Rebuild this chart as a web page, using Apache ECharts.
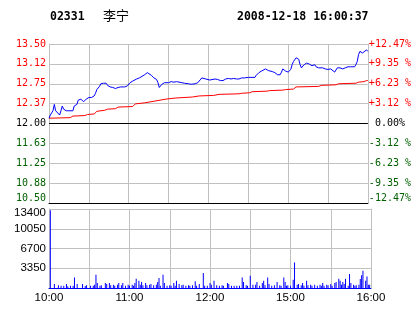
<!DOCTYPE html>
<html><head><meta charset="utf-8">
<script src="https://cdn.jsdelivr.net/npm/echarts@6/dist/echarts.min.js"></script>
<style>html,body{margin:0;padding:0;background:#fff}#c{width:414px;height:314px}</style>
</head><body><div id="c"></div>
<script>
var stockCode = '02331';
var stockName = '李宁';
var stamp = '2008-12-18 16:00:37';

var timeLabels = ['10:00','','11:00','','12:00','','15:00','','16:00'];
var priceLabels = ['10.50','10.88','11.25','11.63','12.00','12.37','12.75','13.12','13.50'];
var pctLabels = ['-12.47%','-9.35 %','-6.23 %','-3.12 %',' 0.00%','+3.12 %','+6.23 %','+9.35 %','+12.47%'];
var volLabels = ['','3350','6700','10050','13400'];

var priceMinutes = [0,1,3,4,5,6,8,9,10,11,13,14,15,16,18,19,21,22,24,25,26,28,30,32,34,35,36,38,39,41,43,44,46,48,50,52,54,57,59,61,63,64,66,68,70,72,74,75,77,79,81,82,83,84,85,87,88,90,92,94,96,97,100,102,105,107,110,112,113,115,116,118,119,121,122,125,127,129,131,133,135,137,139,141,143,145,147,150,152,155,156,158,160,161,163,165,166,168,170,172,174,175,176,178,180,182,183,184,186,187,188,189,190,191,192,194,195,196,198,199,200,201,203,204,206,208,210,212,213,215,216,217,219,221,223,225,227,228,230,231,232,233,234,236,237,239,240];
var priceValues = [12.10,12.16,12.24,12.36,12.24,12.27,12.16,12.24,12.33,12.27,12.24,12.26,12.24,12.22,12.24,12.33,12.36,12.44,12.46,12.47,12.41,12.46,12.49,12.49,12.52,12.57,12.64,12.70,12.75,12.76,12.76,12.72,12.69,12.68,12.66,12.68,12.69,12.69,12.71,12.77,12.80,12.78,12.84,12.86,12.89,12.92,12.96,12.96,12.91,12.86,12.83,12.77,12.68,12.69,12.74,12.77,12.78,12.77,12.79,12.78,12.79,12.78,12.77,12.76,12.75,12.74,12.75,12.77,12.80,12.86,12.83,12.84,12.86,12.82,12.84,12.84,12.83,12.81,12.81,12.84,12.85,12.84,12.85,12.84,12.84,12.86,12.86,12.87,12.87,12.87,12.91,12.96,12.99,13.02,13.03,13.00,12.99,12.98,12.96,12.92,12.92,12.97,13.03,12.99,12.97,13.02,13.11,13.17,13.24,13.27,13.21,13.11,13.05,13.07,13.11,13.14,13.11,13.12,13.09,13.12,13.11,13.07,13.05,13.07,13.05,13.03,13.02,13.03,13.00,12.97,13.00,13.05,13.05,13.03,13.05,13.07,13.07,13.09,13.07,13.11,13.17,13.30,13.36,13.33,13.36,13.39,13.36];

var avgMinutes = [0,16,18,27,29,34,36,42,44,50,52,63,65,72,79,88,95,108,113,124,128,143,145,151,153,164,166,176,178,184,186,203,205,216,218,231,233,237,239,240];
var avgValues = [12.10,12.11,12.14,12.15,12.17,12.18,12.23,12.25,12.27,12.28,12.31,12.32,12.37,12.39,12.42,12.46,12.48,12.50,12.52,12.53,12.55,12.56,12.57,12.58,12.60,12.61,12.62,12.63,12.64,12.65,12.69,12.70,12.72,12.73,12.75,12.76,12.78,12.79,12.81,12.81];

var volMinutes = [1,4,7,9,11,13,14,16,18,19,21,25,27,28,31,33,34,35,36,38,39,42,43,45,46,48,49,51,52,54,55,57,59,60,62,63,64,65,67,68,69,70,72,73,75,76,78,80,81,82,83,85,86,88,90,91,93,94,95,97,99,100,102,104,105,107,109,110,112,115,116,118,120,121,123,125,127,129,130,133,134,136,138,140,142,144,145,147,148,150,152,154,155,157,159,160,161,163,164,166,168,170,172,173,175,176,177,178,180,182,183,185,186,188,189,190,192,193,195,196,198,200,202,203,204,205,207,208,210,211,213,214,216,217,218,219,220,221,223,224,225,227,228,229,231,232,233,234,236,237,238,239];
var volValues = [13200,680,450,400,400,680,300,400,400,1800,680,680,340,450,400,400,560,2260,850,400,450,850,680,850,450,560,400,560,850,450,850,400,560,400,560,400,850,1580,1240,560,1020,450,850,450,560,680,450,560,1020,1690,400,2260,850,400,450,400,850,400,1240,680,450,560,400,450,400,450,1130,400,680,2540,400,400,850,560,1240,450,400,450,400,850,680,400,400,400,400,1800,1020,450,400,2090,560,560,1020,400,850,1240,450,1800,680,400,450,1020,450,400,1800,1020,400,450,400,1410,4340,560,680,450,850,400,1240,450,560,400,560,400,560,400,850,400,560,450,680,400,850,1020,1580,1240,560,1020,680,1580,400,2370,850,560,400,450,560,1520,2150,2930,1240,1970,560,560];

function pairs(xs, ys){ var r=[]; for(var i=0;i<xs.length;i++) r.push([xs[i], ys[i]]); return r; }
var MONO = 'DejaVu Sans Mono';
var SANS = 'Liberation Sans';
var GRID = '#c0c0c0';
function pIdx(v){ return Math.round((v-10.5)/0.375); }
function pColor(i){ return i>4 ? '#ff0000' : (i<4 ? '#006000' : '#000000'); }
function richFor(color){
  return {
    up:{color:color, fontFamily:MONO, fontSize:10, padding:[0,0,10,0]},
    n:{color:color, fontFamily:MONO, fontSize:10}
  };
}
var priceRich = {
  r:{color:'#ff0000', fontFamily:MONO, fontSize:10},
  k:{color:'#000000', fontFamily:MONO, fontSize:10},
  g:{color:'#006000', fontFamily:MONO, fontSize:10},
  gu:{color:'#006000', fontFamily:MONO, fontSize:10, padding:[0,0,10,0]}
};
function styled(i, text){
  var key = i>4 ? 'r' : (i<4 ? (i===0 ? 'gu' : 'g') : 'k');
  return '{' + key + '|' + text + '}';
}

var chart = echarts.init(document.getElementById('c'), null, {renderer:'canvas'});
chart.setOption({
  animation:false,
  backgroundColor:'#ffffff',
  graphic:[
    {type:'text', left:50, top:11, style:{text:stockCode, font:'bold 11.5px '+MONO, fill:'#000'}},
    {type:'text', left:103, top:9, style:{text:stockName, font:'13px "Noto Sans CJK SC"', fill:'#000'}},
    {type:'text', left:237, top:11, style:{text:stamp, font:'bold 11.5px '+MONO, fill:'#000'}}
  ],
  grid:[
    {left:49, right:43, top:44, height:159},
    {left:49, right:43, top:209, height:79}
  ],
  xAxis:[
    {gridIndex:0, type:'value', min:0, max:240, interval:30,
     axisLine:{show:true, onZero:false, lineStyle:{color:'#000', width:1}},
     axisTick:{show:false}, axisLabel:{show:false},
     splitLine:{show:true, lineStyle:{color:GRID, width:1}}},
    {gridIndex:1, type:'value', min:0, max:240, interval:30,
     axisLine:{show:true, onZero:false, lineStyle:{color:'#0000ff', width:1}},
     axisTick:{show:false},
     axisLabel:{show:true, margin:4, color:'#000', fontFamily:SANS, fontSize:11.5,
       formatter:function(v){ return timeLabels[Math.round(v/30)] || ''; }},
     splitLine:{show:true, lineStyle:{color:GRID, width:1}}}
  ],
  yAxis:[
    {gridIndex:0, type:'value', min:10.5, max:13.5, interval:0.375, position:'left',
     axisLine:{show:true, lineStyle:{color:GRID}}, axisTick:{show:false},
     axisLabel:{margin:3, rich:priceRich,
       formatter:function(v){ var i=pIdx(v); return styled(i, priceLabels[i]); }},
     splitLine:{show:true, lineStyle:{color:GRID, width:1}}},
    {gridIndex:0, type:'value', min:10.5, max:13.5, interval:0.375, position:'right',
     axisLine:{show:true, lineStyle:{color:GRID}}, axisTick:{show:false},
     axisLabel:{margin:1, align:'left', rich:priceRich,
       formatter:function(v){ var i=pIdx(v); return styled(i, pctLabels[i]); }},
     splitLine:{show:false}},
    {gridIndex:1, type:'value', min:0, max:13400, interval:3350, position:'left',
     axisLine:{show:true, lineStyle:{color:GRID}}, axisTick:{show:false},
     axisLabel:{margin:3,
       rich:{v:{color:'#000', fontFamily:SANS, fontSize:11.5},
             vd:{color:'#000', fontFamily:SANS, fontSize:11.5, padding:[8,0,0,0]}},
       formatter:function(v){ var i=Math.round(v/3350); var t=volLabels[i]; if(!t) return ''; return (i===4 ? '{vd|' : '{v|') + t + '}'; }},
     splitLine:{show:true, lineStyle:{color:GRID, width:1}}},
    {gridIndex:1, type:'value', min:0, max:13400, interval:3350, position:'right',
     axisLine:{show:true, lineStyle:{color:GRID}}, axisTick:{show:false},
     axisLabel:{show:false}, splitLine:{show:false}}
  ],
  series:[
    {type:'line', xAxisIndex:0, yAxisIndex:0, data:pairs(avgMinutes, avgValues),
     showSymbol:false, symbol:'none', lineStyle:{color:'#ff0000', width:1}, z:3,
     markLine:{silent:true, symbol:'none', label:{show:false},
       lineStyle:{color:'#000', width:1, type:'solid'}, data:[{yAxis:12}]}},
    {type:'line', xAxisIndex:0, yAxisIndex:0, data:pairs(priceMinutes, priceValues),
     showSymbol:false, symbol:'none', lineStyle:{color:'#0000ff', width:1}, z:4},
    {type:'bar', xAxisIndex:1, yAxisIndex:2, data:pairs(volMinutes, volValues),
     barWidth:1, itemStyle:{color:'#0000ff'}}
  ]
});
</script></body></html>
